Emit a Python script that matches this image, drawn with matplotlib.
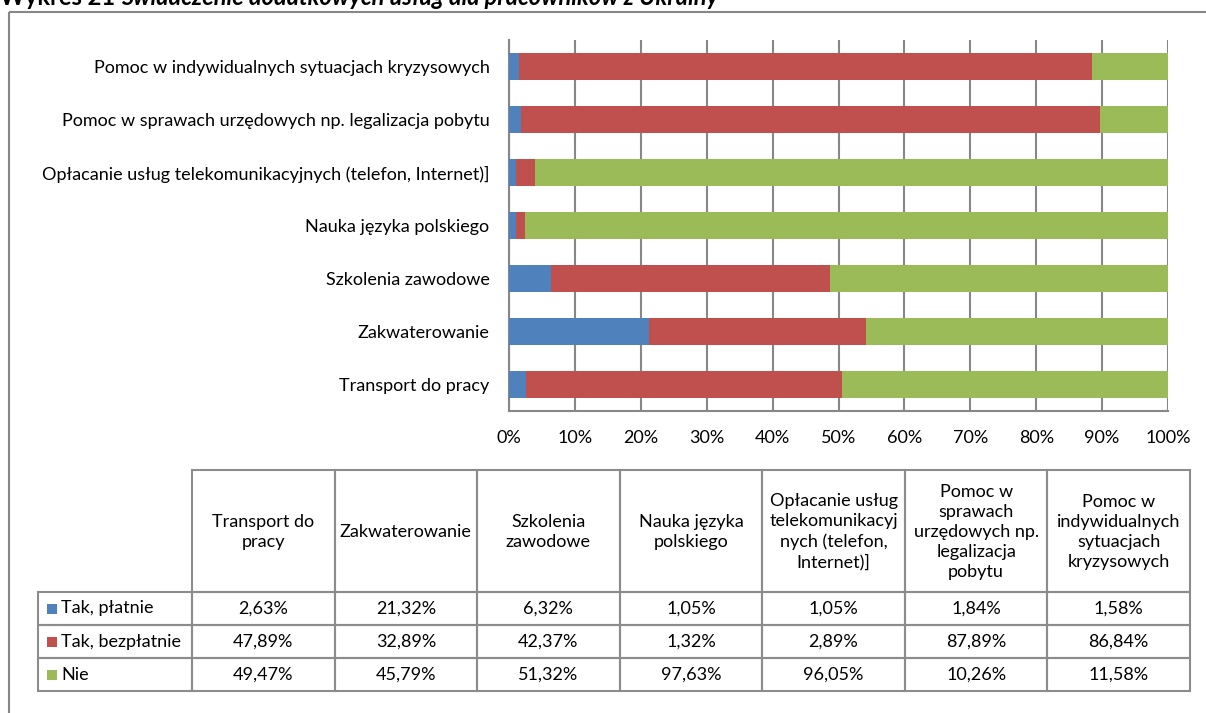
import matplotlib
matplotlib.use('Agg')
import matplotlib.pyplot as plt
from matplotlib.patches import Rectangle

plt.rcParams['font.family'] = ['Lato', 'DejaVu Sans']

# dane
categories = ['Transport do pracy', 'Zakwaterowanie', 'Szkolenia zawodowe',
              'Nauka języka polskiego',
              'Opłacanie usług telekomunikacyjnych (telefon, Internet)]',
              'Pomoc w sprawach urzędowych np. legalizacja pobytu',
              'Pomoc w indywidualnych sytuacjach kryzysowych']
headers = ['Transport do\npracy', 'Zakwaterowanie', 'Szkolenia\nzawodowe',
           'Nauka języka\npolskiego',
           'Opłacanie usług\ntelekomunikacyj\nnych (telefon,\nInternet)]',
           'Pomoc w\nsprawach\nurzędowych np.\nlegalizacja\npobytu',
           'Pomoc w\nindywidualnych\nsytuacjach\nkryzysowych']
series_names = ['Tak, płatnie', 'Tak, bezpłatnie', 'Nie']
platnie = [2.63, 21.32, 6.32, 1.05, 1.05, 1.84, 1.58]
bezplatnie = [47.89, 32.89, 42.37, 1.32, 2.89, 87.89, 86.84]
nie = [49.47, 45.79, 51.32, 97.63, 96.05, 10.26, 11.58]
colors = ['#4F81BD', '#C0504D', '#9BBB59']
grey = '#878787'
fs = 13

W, H = 1206, 713
fig = plt.figure(figsize=(W / 100, H / 100), dpi=100)

# warstwa w pikselach: ramka, tytuł, tabela
ov = fig.add_axes([0, 0, 1, 1])
ov.set_xlim(0, W)
ov.set_ylim(H, 0)
ov.axis('off')
ov.add_patch(Rectangle((9, 12), 1300, 800, fill=False, ec=grey, lw=1.5))

t1 = ov.text(0, 5, 'Wykres 21 ', fontsize=17, fontweight='bold', va='baseline')
fig.canvas.draw()
bb = t1.get_window_extent()
ov.text(bb.x1, 5, 'Świadczenie dodatkowych usług dla pracowników z Ukrainy',
        fontsize=17, fontweight='bold', fontstyle='italic', va='baseline')

# wykres
ax = fig.add_axes([509 / W, 1 - 411 / H, (1168 - 509) / W, (411 - 40) / H])
series = [platnie, bezplatnie, nie]
totals = [sum(v) for v in zip(*series)]
left = [0.0] * len(categories)
for vals, name, c in zip(series, series_names, colors):
    share = [v / t for v, t in zip(vals, totals)]
    ax.barh(range(len(categories)), share, left=left, height=0.5, color=c,
            label=name, zorder=3)
    left = [l + s for l, s in zip(left, share)]

ax.set_xlim(0, 1)
ax.set_ylim(-0.5, len(categories) - 0.5)
ax.set_xticks([i / 10 for i in range(11)])
ax.set_xticklabels([f'{i * 10}%' for i in range(11)])
ax.set_yticks(range(len(categories)))
ax.set_yticklabels(categories)
ax.tick_params(axis='y', length=0, pad=14, labelsize=fs)
ax.tick_params(axis='x', length=0, pad=14, labelsize=fs)
ax.grid(axis='x', color=grey, lw=1.5, zorder=0)
for s in ['top', 'right']:
    ax.spines[s].set_visible(False)
for s in ['left', 'bottom']:
    ax.spines[s].set_color(grey)
    ax.spines[s].set_linewidth(1.5)

# tabela danych
tx0, tx1 = 192, 1190
row_y = [592, 625, 658, 691]
head_top = 470
cw = (tx1 - tx0) / len(categories)
lc = '#8c8c8c'
for j, h in enumerate(headers):
    x = tx0 + j * cw
    ov.add_patch(Rectangle((x, head_top), cw, row_y[0] - head_top, fill=False, ec=lc, lw=1.5))
    ov.text(x + cw / 2, (head_top + row_y[0]) / 2 + 1, h, ha='center', va='center',
            fontsize=fs, linespacing=1.3)
for i, (vals, name, c) in enumerate(zip(series, series_names, colors)):
    y0, y1 = row_y[i], row_y[i + 1]
    ov.add_patch(Rectangle((38, y0), tx0 - 38, y1 - y0, fill=False, ec=lc, lw=1.5))
    ov.add_patch(Rectangle((47, (y0 + y1) / 2 - 5), 10, 10, color=c, lw=0))
    ov.text(61, (y0 + y1) / 2, name, va='center', fontsize=fs)
    for j, v in enumerate(vals):
        x = tx0 + j * cw
        ov.add_patch(Rectangle((x, y0), cw, y1 - y0, fill=False, ec=lc, lw=1.5))
        ov.text(x + cw / 2, (y0 + y1) / 2, f'{v:.2f}%'.replace('.', ','),
                ha='center', va='center', fontsize=fs)

fig.savefig('out.png', dpi=100)
